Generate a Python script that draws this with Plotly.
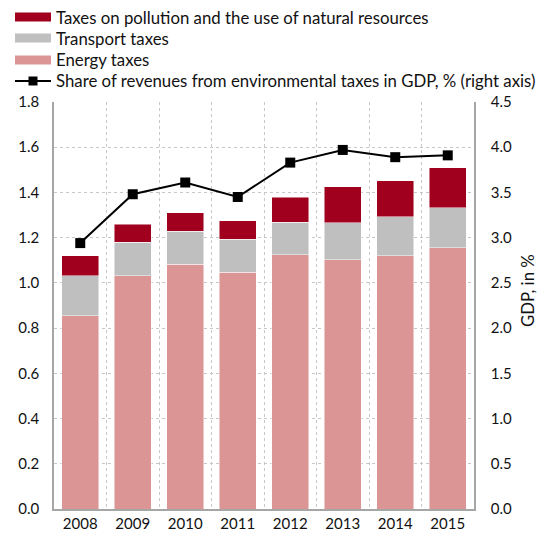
import plotly.graph_objects as go

# Environmental tax revenues by type (left axis) and their share in GDP (right axis)
years = [2008, 2009, 2010, 2011, 2012, 2013, 2014, 2015]
energy_taxes = [0.855, 1.032, 1.083, 1.047, 1.125, 1.102, 1.121, 1.156]
transport_taxes = [0.177, 0.148, 0.146, 0.146, 0.143, 0.163, 0.172, 0.177]
pollution_taxes = [0.088, 0.080, 0.081, 0.081, 0.111, 0.161, 0.158, 0.177]
gdp_share = [2.94, 3.48, 3.61, 3.45, 3.83, 3.97, 3.89, 3.91]

left_ticks = [0.0, 0.2, 0.4, 0.6, 0.8, 1.0, 1.2, 1.4, 1.6, 1.8]
right_ticks = [0.0, 0.5, 1.0, 1.5, 2.0, 2.5, 3.0, 3.5, 4.0, 4.5]

legend_labels = [
    "Taxes on pollution and the use of natural resources",
    "Transport taxes",
    "Energy taxes",
    "Share of revenues from environmental taxes in GDP, % (right axis)",
]

C_POLL = "#A0001E"
C_TRANS = "#BFBFBF"
C_ENERGY = "#DA9594"
FONT = "Lato"
TXT = "#111111"
AXIS = "#A6A6A6"
GRID = "#C8C8C8"
LEG_SIZE = 16.8

W, H = 539, 534
ML, MR, MT, MB = 54, 65, 102, 25
PW, PH = W - ML - MR, H - MT - MB

fig = go.Figure()
bar_line = dict(color="rgba(255,255,255,0.6)", width=0.8)
fig.add_bar(x=years, y=energy_taxes, name=legend_labels[2], marker=dict(color=C_ENERGY, line=bar_line), width=0.71)
fig.add_bar(x=years, y=transport_taxes, name=legend_labels[1], marker=dict(color=C_TRANS, line=bar_line), width=0.71)
fig.add_bar(x=years, y=pollution_taxes, name=legend_labels[0], marker=dict(color=C_POLL, line=bar_line), width=0.71)
fig.add_scatter(x=years, y=gdp_share, yaxis="y2", mode="lines+markers", name=legend_labels[3],
                line=dict(color="black", width=2),
                marker=dict(symbol="square", size=10, color="black"))


def px_x(p):
    return (p - ML) / PW


def px_y(p):
    return (MT + PH - p) / PH


# Hand-built legend rows (wide swatches) above the plot
shapes = []
annotations = []
rows_y = [17, 38, 60, 81]
swatch_cols = [C_POLL, C_TRANS, C_ENERGY]
for i, yy in enumerate(rows_y):
    if i < 3:
        shapes.append(dict(type="rect", xref="paper", yref="paper",
                           x0=px_x(15), x1=px_x(51), y0=px_y(yy + 4.5), y1=px_y(yy - 4.5),
                           fillcolor=swatch_cols[i], line=dict(width=0)))
    else:
        shapes.append(dict(type="line", xref="paper", yref="paper",
                           x0=px_x(15), x1=px_x(51), y0=px_y(yy), y1=px_y(yy),
                           line=dict(color="black", width=2)))
        shapes.append(dict(type="rect", xref="paper", yref="paper",
                           x0=px_x(28.5), x1=px_x(37.5), y0=px_y(yy + 4.5), y1=px_y(yy - 4.5),
                           fillcolor="black", line=dict(width=0)))
    annotations.append(dict(text=legend_labels[i], xref="paper", yref="paper",
                            x=px_x(54), y=px_y(yy), xanchor="left", yanchor="middle",
                            showarrow=False, font=dict(family=FONT, size=LEG_SIZE, color=TXT)))

annotations.append(dict(text="GDP, in %", xref="paper", yref="paper",
                        x=px_x(527), y=px_y(291), textangle=-90,
                        xanchor="center", yanchor="middle", showarrow=False,
                        font=dict(family=FONT, size=LEG_SIZE, color=TXT)))

fig.update_layout(
    width=W, height=H,
    margin=dict(l=ML, r=MR, t=MT, b=MB, pad=0),
    barmode="stack",
    showlegend=False,
    plot_bgcolor="white", paper_bgcolor="white",
    font=dict(family=FONT, size=15, color=TXT),
    shapes=shapes,
    annotations=annotations,
    xaxis=dict(
        range=[2007.5, 2015.5], automargin=False,
        tickmode="array", tickvals=years, ticktext=[str(y) for y in years],
        showgrid=False, showline=True, linecolor=AXIS, linewidth=1.5,
        ticks="", zeroline=False,
        minor=dict(tickmode="array", tickvals=[y + 0.5 for y in years[:-1]],
                   showgrid=True, gridcolor=GRID, griddash="dot", gridwidth=1, ticks=""),
    ),
    yaxis=dict(
        range=[0, 1.8], automargin=False, tickmode="array", tickvals=left_ticks,
        ticktext=[f"{v:.1f}" for v in left_ticks],
        showgrid=True, gridcolor=GRID, griddash="dot", gridwidth=1,
        showline=True, linecolor=AXIS, linewidth=1.5, zeroline=False,
        ticks="", ticklabelstandoff=10,
    ),
    yaxis2=dict(
        range=[0, 4.5], automargin=False, overlaying="y", side="right",
        tickmode="array", tickvals=right_ticks,
        ticktext=[f"{v:.1f}" for v in right_ticks],
        showgrid=False, showline=True, linecolor=AXIS, linewidth=1.5, zeroline=False,
        ticks="", ticklabelstandoff=12,
    ),
)

fig.write_html("out.html")
